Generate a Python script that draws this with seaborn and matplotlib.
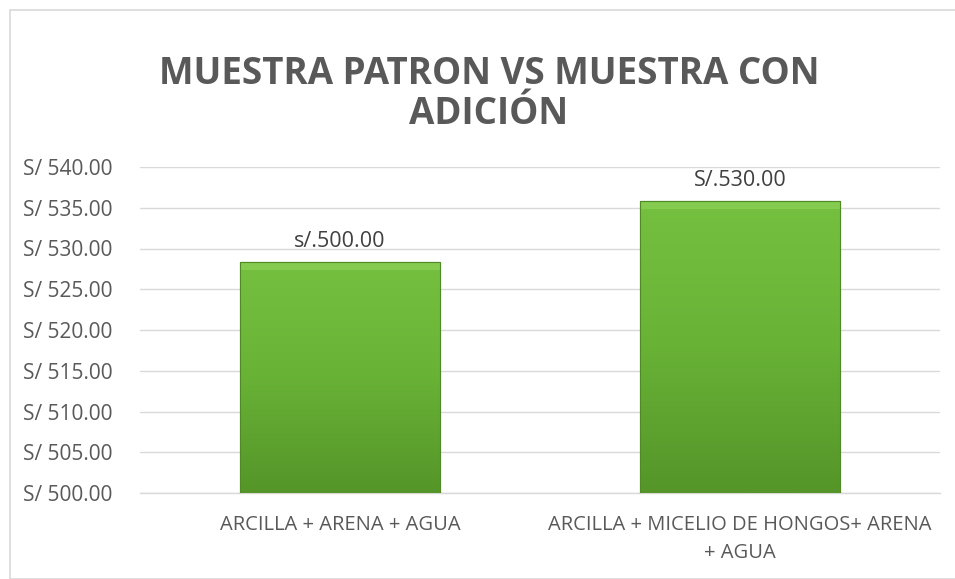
import matplotlib
matplotlib.use("Agg")
import matplotlib.pyplot as plt
import seaborn as sns
import numpy as np
import pandas as pd
from matplotlib.ticker import FuncFormatter
from matplotlib.patches import Rectangle
from matplotlib.colors import LinearSegmentedColormap

categories = ["ARCILLA + ARENA + AGUA", "ARCILLA + MICELIO DE HONGOS+ ARENA\n+ AGUA"]
values = [528.3, 535.8]
bar_labels = ["s/.500.00", "S/.530.00"]
title = "MUESTRA PATRON VS MUESTRA CON\nADICIÓN"

sns.set_theme(style="white")
plt.rcParams['font.family'] = ['Open Sans', 'DejaVu Sans']

df = pd.DataFrame({"cat": categories, "val": values})

fig = plt.figure(figsize=(9.55, 5.79), dpi=100)
fig.patch.set_facecolor("white")
fig.patches.append(Rectangle((10/955, 0), 1.0, 1 - 10/579, transform=fig.transFigure,
                             fill=False, edgecolor="#d9d9d9", linewidth=1.2, zorder=0))
ax = fig.add_axes([140/955, 1 - 493/579, 800/955, (493 - 167)/579])

sns.barplot(data=df, x="cat", y="val", ax=ax, color="#6bb536", width=0.5,
            edgecolor="#4f8a26", linewidth=0.8, zorder=3)

ax.set_ylim(500, 540)
ax.set_yticks(np.arange(500, 541, 5))
ax.yaxis.set_major_formatter(FuncFormatter(lambda v, p: f"S/ {v:.2f}"))
ax.grid(axis="y", color="#d9d9d9", linewidth=1.0, zorder=0)
ax.set_axisbelow(True)
for s in ["top", "right", "left"]:
    ax.spines[s].set_visible(False)
ax.spines["bottom"].set_color("#d9d9d9")
ax.spines["bottom"].set_linewidth(1.0)
ax.tick_params(axis="y", length=0, pad=20, labelsize=15, labelcolor="#595959")
ax.tick_params(axis="x", length=0, pad=16, labelsize=14.5, labelcolor="#595959")
for t in ax.get_xticklabels():
    t.set_linespacing(1.55)
ax.set_xlabel("")
ax.set_ylabel("")

# gradient fill in bars with a light bevel on top
grad = np.linspace(0, 1, 256).reshape(-1, 1)
cmap = LinearSegmentedColormap.from_list("g", ["#559529", "#68b236", "#76c040"])
for patch, lab in zip(ax.patches, bar_labels):
    x0, y0 = patch.get_x(), patch.get_y()
    w, h = patch.get_width(), patch.get_height()
    top = y0 + h
    im = ax.imshow(grad, extent=[x0, x0 + w, 500, top], origin="lower", aspect="auto",
                   cmap=cmap, zorder=3.5)
    im.set_clip_path(patch)
    ax.add_patch(Rectangle((x0, top - 0.9), w, 0.9, facecolor="#8fd45a",
                           edgecolor="none", alpha=0.6, zorder=3.8))
    ax.add_patch(Rectangle((x0, 500), w, top - 500, fill=False,
                           edgecolor="#4f8a26", linewidth=0.8, zorder=4))
    ax.text(x0 + w / 2, top + 1.3, lab, ha="center", va="bottom",
            fontsize=15.5, color="#404040", zorder=5)
ax.set_xlim(-0.5, 1.5)
ax.set_ylim(500, 540)

fig.text(0.5 * (160 + 818) / 955, 1 - 94/579, title, ha="center", va="center",
         fontsize=26.5, fontweight="bold", color="#595959", linespacing=1.05)

fig.savefig("out.png", dpi=100)
